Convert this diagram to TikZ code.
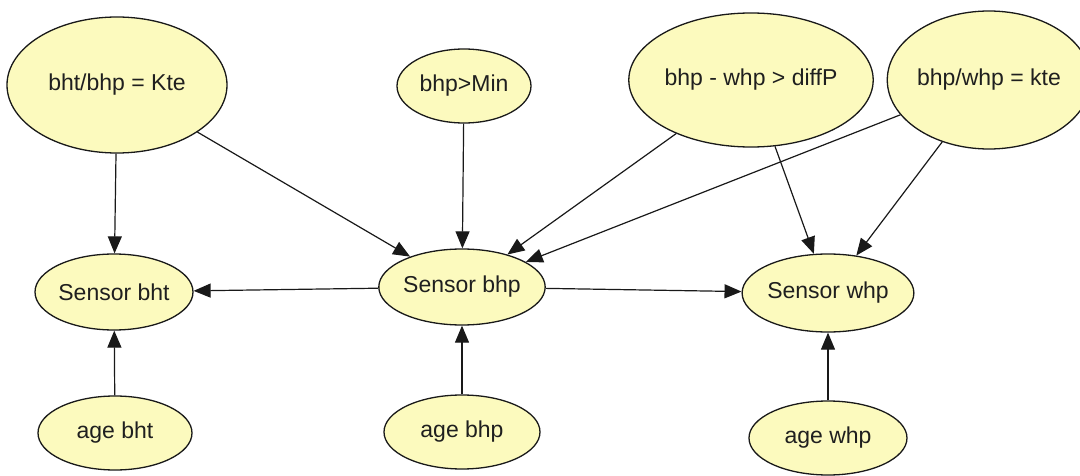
\documentclass[tikz,border=0pt]{standalone}
\usepackage{fontspec}
\setmainfont{Liberation Sans}
\usetikzlibrary{arrows.meta,shapes.geometric}
\definecolor{nodefill}{RGB}{252,250,190}
\definecolor{edgecol}{RGB}{25,25,25}
\begin{document}
\begin{tikzpicture}[x=1pt,y=-1pt,
  ell/.style={ellipse, draw=edgecol, line width=1.3pt, fill=nodefill, inner sep=0pt,
    font=\fontsize{23}{27}\selectfont, text=black!88},
  arr/.style={draw=edgecol, line width=1.2pt, -{Triangle[length=17pt,width=14pt]}}]
\useasboundingbox[fill=white] (0,0) rectangle (1080,476);
% top row
\node[ell, minimum width=220pt, minimum height=136pt] (k1) at (117,85) {bht/bhp = Kte};
\node[ell, minimum width=134pt, minimum height=74pt] (mn) at (464,86) {bhp>Min};
\node[ell, minimum width=210pt, minimum height=134pt] (df) at (751,80) {bhp - whp > diffP};
\node[ell, minimum width=176pt, minimum height=138pt] (k2) at (989,80) {bhp/whp = kte};
% middle row
\node[ell, minimum width=158pt, minimum height=76pt] (s1) at (114,292) {Sensor bht};
\node[ell, minimum width=158pt, minimum height=76pt] (s2) at (462,287) {Sensor bhp};
\node[ell, minimum width=158pt, minimum height=78pt] (s3) at (828,293) {Sensor whp};
% bottom row
\node[ell, minimum width=154pt, minimum height=74pt] (a1) at (115,433) {age bht};
\node[ell, minimum width=156pt, minimum height=74pt] (a2) at (462,432) {age bhp};
\node[ell, minimum width=158pt, minimum height=74pt] (a3) at (828,438) {age whp};
% edges
\draw[arr] (k1) -- (s1);
\draw[arr] (k1) -- (s2);
\draw[arr] (mn) -- (s2);
\draw[arr] (df) -- (s2);
\draw[arr] (k2) -- (s2);
\draw[arr] (df) -- (s3);
\draw[arr] (k2) -- (s3);
\draw[arr] (s2) -- (s1);
\draw[arr] (s2) -- (s3);
\draw[arr] (a1) -- (s1);
\draw[arr] (a2) -- (s2);
\draw[arr] (a3) -- (s3);
\end{tikzpicture}
\end{document}
